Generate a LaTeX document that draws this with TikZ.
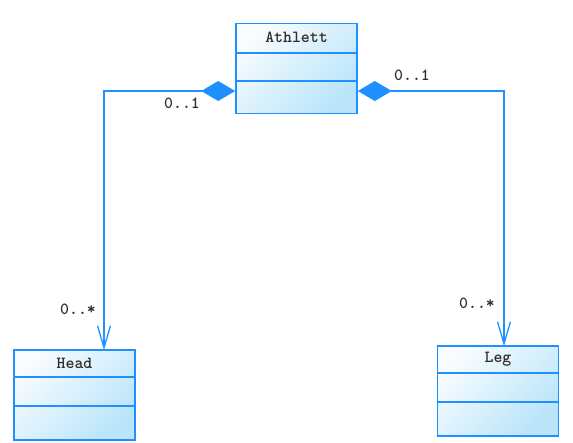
\documentclass[tikz,border=0pt]{standalone}
\usepackage{fontspec}
\usetikzlibrary{arrows.meta,calc}
\definecolor{umlblue}{RGB}{30,144,255}
\definecolor{filllight}{RGB}{248,252,255}
\definecolor{filldark}{RGB}{185,228,250}
\definecolor{txt}{RGB}{50,45,40}
\tikzset{
  classbox/.style={draw=umlblue,line width=1.6pt,minimum width=121pt,minimum height=90pt,inner sep=0pt,
    left color=filllight,right color=filldark,shading angle=45},
  divider/.style={draw=umlblue,line width=1.6pt},
  title/.style={font=\ttfamily\bfseries\fontsize{17}{17}\selectfont,text=txt,inner sep=0pt},
  mult/.style={font=\ttfamily\bfseries\fontsize{17}{17}\selectfont,text=txt,inner sep=0pt},
  conn/.style={draw=umlblue,line width=1.3pt},
  compo/.style={{Diamond[length=34pt,width=20pt,fill=umlblue]}-{Straight Barb[length=22pt,width=13pt,line width=1.3pt]}}
}
\begin{document}
\begin{tikzpicture}[x=1pt,y=-1pt]
\useasboundingbox (0,0) rectangle (573,442);
% classes
\node[classbox] (ath) at (296.5,68.5) {};
\node[classbox] (head) at (74.5,395) {};
\node[classbox] (leg) at (498,391) {};
\path[divider] ($(ath.north west)+(0,30)$) -- ($(ath.north east)+(0,30)$);
\path[divider] ($(ath.north west)+(0,58)$) -- ($(ath.north east)+(0,58)$);
\path[divider] ($(head.north west)+(0,28)$) -- ($(head.north east)+(0,28)$);
\path[divider] ($(head.north west)+(0,57)$) -- ($(head.north east)+(0,57)$);
\path[divider] ($(leg.north west)+(0,28)$) -- ($(leg.north east)+(0,28)$);
\path[divider] ($(leg.north west)+(0,57)$) -- ($(leg.north east)+(0,57)$);
\node[title] (athT) at ($(ath.north)+(0,15)$) {Athlett};
\node[title] (headT) at ($(head.north)+(0,14)$) {Head};
\node[title] (legT) at ($(leg.north)+(0,14)$) {Leg};
% connection points
\coordinate (aL) at ($(ath.west)+(0,22.5)$);
\coordinate (aR) at ($(ath.east)+(0,22.5)$);
\coordinate (hT) at (104,350);
\coordinate (lT) at (504,346);
\draw[conn,compo] (aL) -| (hT);
\draw[conn,compo] (aR) -| (lT);
% multiplicities
\node[mult] (m1) at (182,103) {0..1};
\node[mult] (m2) at (412,75) {0..1};
\node[mult] (m3) at (78,309) {0..*};
\node[mult] (m4) at (477,303) {0..*};
\end{tikzpicture}
\end{document}
